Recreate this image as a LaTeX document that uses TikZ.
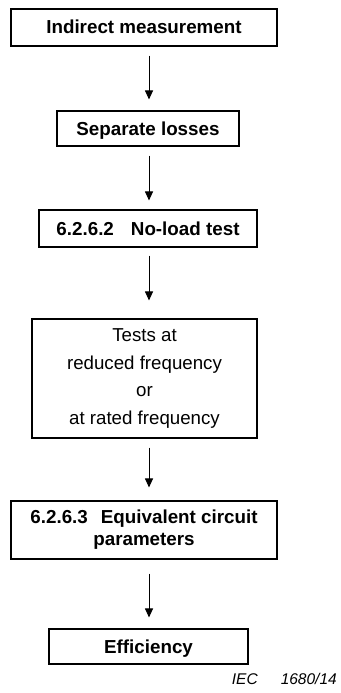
\documentclass[tikz,border=0pt]{standalone}
\usepackage{fontspec}
\setmainfont{Liberation Sans}
\usetikzlibrary{arrows.meta}
\begin{document}
\begin{tikzpicture}[x=1pt,y=-1pt,
  box/.style={draw=black,line width=1.1pt,rectangle,inner sep=0pt,align=center},
  bbox/.style={box,font=\fontsize{18.8}{22}\selectfont\bfseries,text height=13pt,text depth=0pt},
  arr/.style={line width=1pt,-{Triangle[width=8pt,length=9pt]}}]
\useasboundingbox (0,0) rectangle (340,693);
\coordinate (ax) at (149,0);
% boxes
\node[bbox,minimum width=266pt,minimum height=37pt] (b1) at (144,27.5) {Indirect measurement};
\node[bbox,minimum width=182pt,minimum height=35pt] (b2) at (148,128.5) {Separate losses};
\node[bbox,minimum width=218pt,minimum height=37pt] (b3) at (148,228.5) {6.2.6.2\hspace{17pt}No-load test};
\node[box,minimum width=225pt,minimum height=119pt,font=\fontsize{18.7}{27.5}\selectfont] (b4) at (144.5,378.5)
  {Tests at\\reduced frequency\\or\\at rated frequency};
\node[box,minimum width=266pt,minimum height=58pt,font=\fontsize{18.8}{22}\selectfont\bfseries] (b5) at (144,530)
  {6.2.6.3\hspace{13pt}Equivalent circuit\\parameters};
\node[bbox,minimum width=199pt,minimum height=35pt] (b6) at (148.5,646.5) {Efficiency};
% connectors
\draw[arr,shorten <=9pt,shorten >=11pt] (b1.south -| ax) -- (b2.north -| ax);
\draw[arr,shorten <=9pt,shorten >=9pt] (b2.south -| ax) -- (b3.north -| ax);
\draw[arr,shorten <=8pt,shorten >=18pt] (b3.south -| ax) -- (b4.north -| ax);
\draw[arr,shorten <=9pt,shorten >=13pt] (b4.south -| ax) -- (b5.north -| ax);
\draw[arr,shorten <=14pt,shorten >=11pt] (b5.south -| ax) -- (b6.north -| ax);
% figure reference
\node[anchor=base east,inner sep=0pt,font=\fontsize{15.5}{18}\selectfont\itshape] (ref) at (337,684) {IEC\hspace{23pt}1680/14};
\end{tikzpicture}
\end{document}
